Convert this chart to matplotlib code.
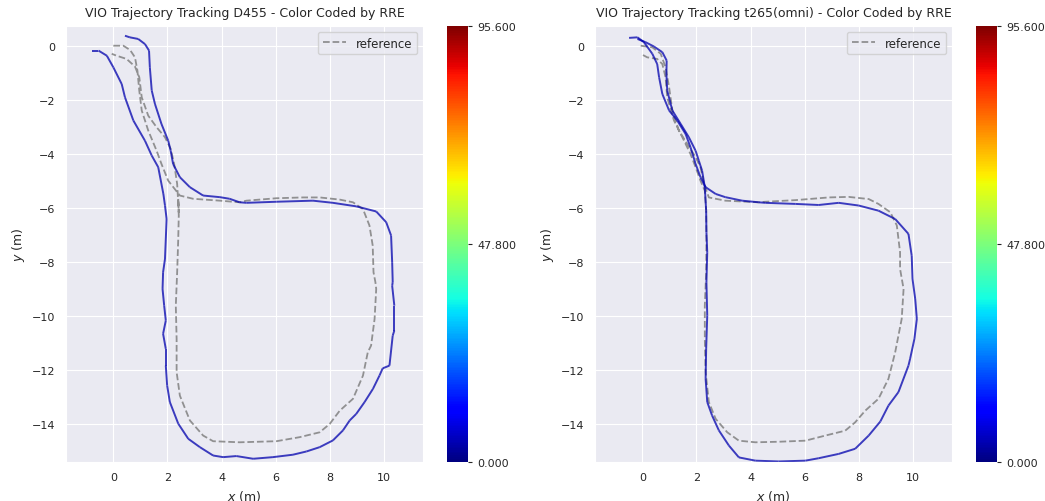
import numpy as np
import matplotlib
matplotlib.use("Agg")
import matplotlib.pyplot as plt
import seaborn as sns
from matplotlib.collections import LineCollection
from matplotlib.colors import Normalize

sns.set_style("darkgrid")
plt.rcParams['font.family'] = ['DejaVu Sans']

# ---- ground truth paths (m) ----
ref_d455_x = [0.0, 0.37, 0.62, 0.80, 0.89, 0.96, 1.05, 1.29, 1.60, 1.78, 2.03, 2.46, 2.95, 3.94, 4.67,
              4.92, 6.03, 7.01, 7.63, 8.37, 8.86, 9.23, 9.47, 9.59, 9.62, 9.69, 9.72, 9.66, 9.53, 9.41,
              9.23, 8.86, 8.37, 8.0, 7.63, 6.89, 6.03, 4.67, 3.69, 3.32, 2.83, 2.46, 2.34, 2.34, 2.31,
              2.36, 2.40, 2.42, 2.40, 2.42, 2.36, 2.25, 2.12, 1.91, 1.60, 1.29, 1.05, 0.96, 0.80, 0.49,
              0.12, -0.06]
ref_d455_y = [0.02, 0.02, -0.14, -0.41, -0.90, -1.65, -2.38, -3.12, -3.87, -4.36, -4.98, -5.53, -5.65, -5.72, -5.78,
              -5.72, -5.63, -5.60, -5.60, -5.68, -5.78, -6.03, -6.64, -7.38, -8.37, -8.74, -8.99, -10.1, -11.09, -11.33,
              -12.2, -13.06, -13.5, -13.99, -14.3, -14.48, -14.63, -14.67, -14.63, -14.42, -13.86, -12.94, -12.07, -10.84, -9.61,
              -8.37, -7.14, -6.27, -5.65, -6.15, -5.10, -4.36, -3.80, -3.37, -3.0, -2.57, -1.89, -1.15, -0.75, -0.47,
              -0.35, -0.28]

ref_t265_x = [-0.06, 0.37, 0.68, 0.86, 0.99, 1.11, 1.35, 1.66, 1.97, 2.15, 2.28, 2.46, 3.07, 4.30, 4.55,
              5.66, 6.89, 7.63, 8.37, 8.73, 9.17, 9.41, 9.53, 9.53, 9.66, 9.59, 9.35, 9.10, 8.73, 8.24,
              7.87, 7.5, 6.77, 6.03, 5.04, 4.18, 3.57, 3.14, 2.71, 2.46, 2.34, 2.31, 2.31, 2.36, 2.37,
              2.36, 2.31, 2.15, 1.97, 1.78, 1.48, 1.17, 0.92, 0.86, 0.74, 0.55, 0.18, -0.06]
ref_t265_y = [0.02, -0.04, -0.28, -0.78, -1.52, -2.38, -3.12, -3.62, -4.11, -4.48, -5.10, -5.60, -5.72, -5.78, -5.76,
              -5.70, -5.60, -5.58, -5.66, -5.84, -6.15, -6.64, -7.63, -8.25, -8.99, -10.1, -11.33, -12.32, -13.06, -13.5,
              -13.93, -14.24, -14.42, -14.61, -14.65, -14.67, -14.61, -14.3, -13.8, -13.18, -12.07, -10.84, -9.61, -8.37, -7.14,
              -6.09, -5.35, -4.98, -4.48, -3.99, -3.37, -2.75, -1.89, -1.15, -0.66, -0.47, -0.41, -0.28]

# ---- VIO estimates (m) ----
est_d455_x = [0.43, 0.61, 0.92, 1.17, 1.32, 1.35, 1.42, 1.54, 1.78, 2.03, 2.12, 2.21, 2.46, 2.83, 3.32,
              3.94, 4.30, 4.67, 4.92, 6.03, 7.38, 8.12, 8.98, 9.72, 10.09, 10.27, 10.31, 10.33, 10.31, 10.39,
              10.39, 10.33, 10.21, 9.96, 9.84, 9.6, 9.29, 8.98, 8.74, 8.49, 8.12, 7.63, 7.14, 6.64, 5.90,
              5.17, 4.55, 4.06, 3.69, 3.2, 2.77, 2.40, 2.09, 1.99, 1.94, 1.94, 1.84, 1.94, 1.88, 1.82,
              1.84, 1.91, 1.94, 1.97, 1.91, 1.85, 1.66, 1.42, 1.17, 0.74, 0.43, 0.31, 0.0, -0.24, -0.55,
              -0.80]
est_d455_y = [0.39, 0.33, 0.27, 0.08, -0.16, -0.78, -1.64, -2.14, -2.88, -3.50, -3.87, -4.36, -4.85, -5.22, -5.53,
              -5.59, -5.65, -5.78, -5.80, -5.76, -5.72, -5.80, -5.93, -6.12, -6.52, -7.01, -8.0, -8.74, -8.87, -9.61,
              -10.53, -10.72, -11.83, -11.93, -12.2, -12.69, -13.18, -13.62, -13.86, -14.23, -14.6, -14.85, -15.01, -15.13, -15.22,
              -15.28, -15.18, -15.22, -15.16, -14.85, -14.54, -13.98, -13.18, -12.57, -11.83, -11.21, -10.65, -10.16, -9.61, -8.99,
              -8.37, -7.88, -7.14, -6.40, -5.90, -5.47, -4.48, -4.05, -3.50, -2.75, -1.89, -1.40, -0.78, -0.35, -0.16,
              -0.16]

est_t265_x = [-0.49, -0.18, 0.06, 0.37, 0.55, 0.62, 0.74, 0.99, 1.29, 1.60, 1.78, 1.97, 2.15, 2.34, 2.71,
              3.07, 3.69, 4.30, 4.55, 5.66, 6.52, 7.26, 8.0, 8.73, 9.35, 9.84, 9.96, 9.99, 10.09, 10.15,
              10.06, 9.90, 9.84, 9.47, 9.10, 8.80, 8.37, 7.87, 7.26, 6.52, 6.03, 5.04, 4.18, 3.57, 3.20,
              2.83, 2.58, 2.40, 2.34, 2.36, 2.40, 2.37, 2.40, 2.37, 2.36, 2.31, 2.21, 2.09, 1.97, 1.72,
              1.42, 1.11, 0.92, 0.89, 0.90, 0.74, 0.43, 0.12, -0.18]
est_t265_y = [0.31, 0.33, 0.15, -0.28, -0.66, -1.15, -1.77, -2.38, -2.75, -3.25, -3.74, -4.36, -4.85, -5.22, -5.47,
              -5.59, -5.72, -5.78, -5.80, -5.84, -5.88, -5.80, -5.90, -6.09, -6.40, -6.95, -7.76, -8.62, -9.36, -10.1,
              -10.84, -11.58, -11.83, -12.81, -13.31, -13.9, -14.42, -14.91, -15.1, -15.26, -15.35, -15.38, -15.35, -15.23, -14.79,
              -14.23, -13.68, -13.18, -12.32, -11.21, -9.98, -8.74, -7.63, -6.89, -6.09, -5.22, -4.61, -4.24, -3.87, -3.37,
              -2.88, -2.38, -1.64, -1.03, -0.53, -0.22, -0.01, 0.15, 0.27]

# RRE along each run stays low (deg), colour scale tops out at the max
rre_d455 = 4.0
rre_t265 = 4.0
rre_max = 95.6
cbar_ticks = [0.0, 47.8, 95.6]

titles = ["VIO Trajectory Tracking D455 - Color Coded by RRE",
          "VIO Trajectory Tracking t265(omni) - Color Coded by RRE"]

W, H = 1045, 502
fig = plt.figure(figsize=(W / 100, H / 100), dpi=100)
cmap = plt.get_cmap("jet")
norm = Normalize(vmin=0.0, vmax=rre_max)

ax_boxes = [(66, 27, 357, 436), (595, 27, 357, 436)]
cb_boxes = [(447, 27, 21, 436), (976, 27, 21, 436)]

def box(px):
    l, t, w, h = px
    return [l / W, 1 - (t + h) / H, w / W, h / H]

runs = [(ref_d455_x, ref_d455_y, est_d455_x, est_d455_y, rre_d455),
        (ref_t265_x, ref_t265_y, est_t265_x, est_t265_y, rre_t265)]

for i, (rx, ry, ex, ey, rre) in enumerate(runs):
    ax = fig.add_axes(box(ax_boxes[i]))
    ax.plot(rx, ry, '--', color='gray', alpha=0.85, lw=1.3, label='reference')

    pts = np.column_stack([ex, ey]).reshape(-1, 1, 2)
    segs = np.concatenate([pts[:-1], pts[1:]], axis=1)
    lc = LineCollection(segs, cmap=cmap, norm=norm, lw=1.4, alpha=0.75)
    lc.set_array(np.full(len(segs), rre))
    ax.add_collection(lc)

    ax.set_xlim(-1.75, 11.45)
    ax.set_ylim(-15.4, 0.75)
    ax.set_xticks([0, 2, 4, 6, 8, 10])
    ax.set_yticks([0, -2, -4, -6, -8, -10, -12, -14])
    ax.tick_params(labelsize=8, colors='.15', pad=4)
    ax.set_xlabel('$x$ (m)', fontsize=9, color='.15')
    ax.set_ylabel('$y$ (m)', fontsize=9, color='.15')
    ax.set_title(titles[i], fontsize=9, color='.15', pad=7)
    ax.legend(loc='upper right', fontsize=8.5)

    cax = fig.add_axes(box(cb_boxes[i]))
    sm = plt.cm.ScalarMappable(norm=norm, cmap=cmap)
    cb = fig.colorbar(sm, cax=cax, ticks=cbar_ticks, format='%.3f')
    cb.outline.set_visible(False)
    cax.tick_params(right=True, length=3, width=0.8, labelsize=8, colors='.15')

fig.savefig("out.png", dpi=100)
